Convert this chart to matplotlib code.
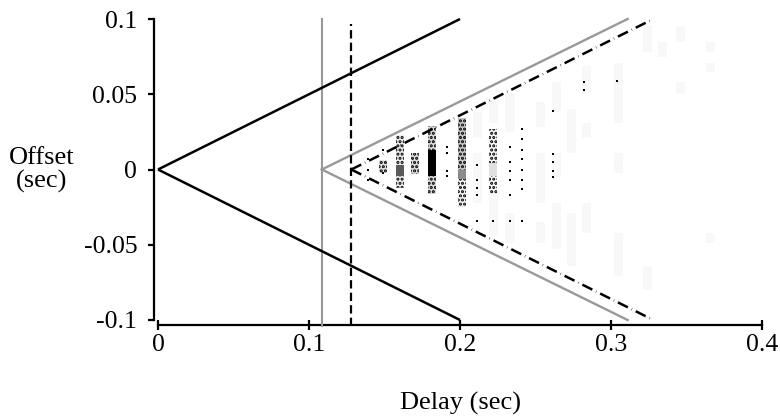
import matplotlib
matplotlib.use("Agg")
import matplotlib.pyplot as plt
import numpy as np

plt.rcParams["font.family"] = ["Liberation Serif", "DejaVu Serif"]
plt.rcParams["lines.scale_dashes"] = False
plt.rcParams["hatch.color"] = "black"
plt.rcParams["hatch.linewidth"] = 1.5

# Bounding lines: (delay at zero offset, delay at the offset edge) for each cone
cone_black = [0.0, 0.2]
cone_gray = [0.1085, 0.311]
cone_dashed = [0.128, 0.328]
offset_edge = 0.1

# Shaded histogram blocks: delay column, offset range and grey level
blk_delay = [0.1604, 0.1604, 0.1604, 0.1815, 0.1815, 0.1815,
             0.2014, 0.2014, 0.2014, 0.1703, 0.1491, 0.2219, 0.2219, 0.2219]
blk_lo = [0.0027, -0.004, -0.012, 0.0127, -0.004, -0.016,
          0.0, -0.006, -0.025, -0.0027, -0.002, 0.004, -0.004, -0.016]
blk_hi = [0.0227, 0.0027, -0.004, 0.029, 0.0127, -0.004,
          0.034, 0.0, -0.006, 0.0107, 0.006, 0.027, 0.004, -0.004]
blk_shade = [0.93, 0.35, 0.93, 0.86, 0.0, 0.86,
             0.78, 0.55, 0.96, 0.86, 0.88, 0.97, 0.88, 0.98]
blk_dots = [True, False, True, True, False, True,
            True, False, True, True, True, True, False, True]

# Isolated counts
pt_delay = [0.1392, 0.1392, 0.1392, 0.1491, 0.1491,
            0.1915, 0.1915, 0.1915, 0.1915,
            0.2113, 0.2113, 0.2113, 0.2113, 0.2113, 0.2219,
            0.2331, 0.2331, 0.2331, 0.2331, 0.2331, 0.2331,
            0.2411, 0.2411, 0.2411, 0.2411, 0.2411, 0.2411, 0.2411, 0.2411,
            0.2616, 0.2616, 0.2616, 0.2616, 0.2616,
            0.282, 0.282, 0.304]
pt_offset = [0.007, 0.0, -0.007, 0.013, -0.002,
             0.015, 0.011, -0.001, -0.004,
             0.003, -0.007, -0.012, -0.017, -0.034, -0.034,
             0.015, 0.005, -0.001, -0.007, -0.017, -0.034,
             0.027, 0.020, 0.013, 0.007, 0.0, -0.007, -0.013, -0.034,
             0.039, 0.010, 0.005, -0.001, -0.005,
             0.058, 0.053, 0.059]

# Faint low-count cells
faint_delay = [0.2119, 0.2119, 0.2219, 0.2219, 0.2331, 0.2331,
               0.253, 0.253, 0.253, 0.264, 0.264, 0.264, 0.274, 0.274,
               0.284, 0.284, 0.284, 0.305, 0.305, 0.305, 0.324, 0.324,
               0.334, 0.346, 0.346, 0.366, 0.366, 0.366]
faint_lo = [0.021, -0.022, 0.031, -0.044, 0.025, -0.049,
            0.028, -0.022, -0.049, 0.038, -0.005, -0.053, 0.011, -0.064,
            0.051, 0.021, -0.042, 0.031, -0.002, -0.071, 0.078, -0.08,
            0.075, 0.085, 0.051, 0.078, 0.065, -0.049]
faint_hi = [0.038, 0.011, 0.047, -0.009, 0.051, -0.029,
            0.045, 0.011, -0.035, 0.058, 0.011, -0.022, 0.040, -0.029,
            0.069, 0.031, -0.022, 0.071, 0.011, -0.042, 0.096, -0.065,
            0.085, 0.095, 0.058, 0.085, 0.071, -0.042]

fig = plt.figure(figsize=(7.8, 4.17), dpi=100)
ax = fig.add_axes([158 / 780, 1 - 320 / 417, 604 / 780, 301 / 417])
ax.set_xlim(0, 0.4)
ax.set_ylim(-0.1, 0.1)

w = 0.0055
ax.bar(faint_delay, np.subtract(faint_hi, faint_lo), bottom=faint_lo, width=0.006,
       color="0.972", edgecolor="none", linewidth=0, zorder=1)
for d, lo, hi, s, dots in zip(blk_delay, blk_lo, blk_hi, blk_shade, blk_dots):
    ax.bar(d, hi - lo, bottom=lo, width=w, color=str(s),
           edgecolor="black" if dots else "none", linewidth=0,
           hatch="...." if dots else None, zorder=2)
ax.scatter(pt_delay, pt_offset, s=3, marker="s", color="black",
           linewidths=0, zorder=2)

# Cone edges
ax.plot([cone_black[0], cone_black[1]], [0, offset_edge], color="black", lw=1.8,
        zorder=4, clip_on=False, solid_capstyle="butt")
ax.plot([cone_black[0], cone_black[1]], [0, -offset_edge], color="black", lw=1.8,
        zorder=4, clip_on=False, solid_capstyle="butt")

ax.axvline(cone_gray[0], ymin=-0.02, ymax=1.0, color="#999999", lw=1.5,
           clip_on=False, zorder=3)
ax.plot([cone_gray[0], cone_gray[1]], [0, offset_edge], color="#999999", lw=1.7,
        zorder=3, clip_on=False)
ax.plot([cone_gray[0], cone_gray[1]], [0, -offset_edge], color="#999999", lw=1.7,
        zorder=3, clip_on=False)

ax.axvline(cone_dashed[0], ymin=-0.02, ymax=0.985, color="black", lw=1.6,
           linestyle=(0, (6, 3)), clip_on=False, zorder=3)
dash_slant = (0, (8, 3, 0.3, 3))
ax.plot([cone_dashed[0], cone_dashed[1]], [0, offset_edge], color="black", lw=1.8,
        linestyle=dash_slant, zorder=3, clip_on=False, dash_capstyle="butt")
ax.plot([cone_dashed[0], cone_dashed[1]], [0, -offset_edge], color="black", lw=1.8,
        linestyle=dash_slant, zorder=3, clip_on=False, dash_capstyle="butt")

for side in ("top", "right"):
    ax.spines[side].set_visible(False)
ax.spines["left"].set_position(("outward", 2.9))
ax.spines["bottom"].set_position(("outward", 3.6))
ax.spines["left"].set_linewidth(1.6)
ax.spines["bottom"].set_linewidth(1.6)

ax.set_xticks([0, 0.1, 0.2, 0.3, 0.4])
ax.set_xticklabels(["0", "0.1", "0.2", "0.3", "0.4"])
ax.set_yticks([-0.1, -0.05, 0, 0.05, 0.1])
ax.set_yticklabels(["-0.1", "-0.05", "0", "0.05", "0.1"])
ax.tick_params(axis="x", direction="inout", length=7, width=1.6, pad=3,
               labelsize=18.5)
ax.tick_params(axis="y", direction="out", length=4, width=1.6, pad=8,
               labelsize=18.5)

fig.text(42 / 780, 1 - 170 / 417, "Offset\n(sec)", ha="center", va="center",
         fontsize=19, linespacing=1.0)
fig.text(460 / 780, 1 - 403 / 417, "Delay (sec)", ha="center", va="center",
         fontsize=19)

fig.savefig("out.png", dpi=100)
